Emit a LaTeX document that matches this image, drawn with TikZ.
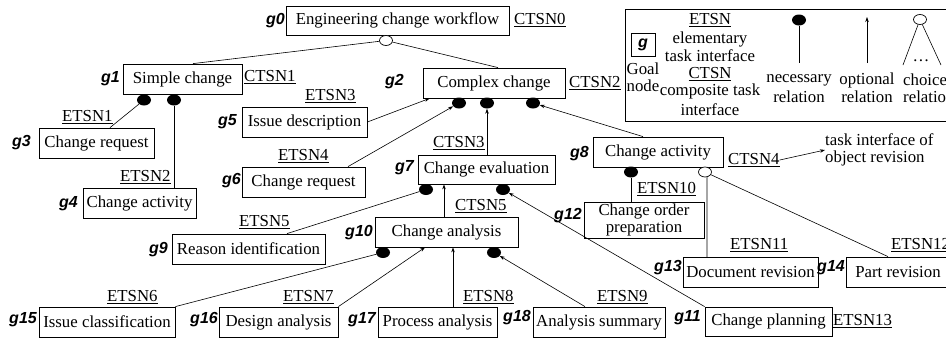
\documentclass[tikz,border=0pt]{standalone}
\usepackage{fontspec}
\setmainfont{Liberation Serif}
\newfontfamily\lblfont{Liberation Sans}
\usetikzlibrary{arrows.meta,shapes.geometric}
\begin{document}
\begin{tikzpicture}[x=1pt,y=-1pt,
  box/.style={draw, line width=0.8pt, inner sep=0pt, font=\fontsize{16.8}{17}\selectfont},
  gl/.style={font=\fontsize{16}{17}\selectfont\lblfont\bfseries\itshape, inner sep=0pt, anchor=east},
  tsn/.style={font=\fontsize{16.8}{17}\selectfont, inner sep=0pt, anchor=west},
  txt/.style={font=\fontsize{16.8}{17}\selectfont, inner sep=0pt},
  nec/.style={ellipse, fill=black, minimum width=14pt, minimum height=11pt, inner sep=0pt},
  cho/.style={ellipse, draw, line width=0.7pt, fill=white, minimum width=13pt, minimum height=10pt, inner sep=0pt},
  ln/.style={line width=0.6pt},
  arr/.style={line width=0.6pt, -{Stealth[length=5pt,width=3.5pt]}}
]
\useasboundingbox (0,0) rectangle (946,338);
\clip (0,0) rectangle (946,338);

% ---------- legend ----------
\draw[line width=0.9pt] (625,9) rectangle (970,121);
\node[draw, line width=0.8pt, minimum width=24pt, minimum height=23pt, inner sep=0pt,
      font=\fontsize{16}{17}\selectfont\lblfont\bfseries\itshape] (lg) at (643,44.5) {g};
\node[txt] (lgoal) at (643,69) {Goal};
\node[txt] (lnode) at (643,86) {node};
\node[txt] (le1) at (710,20) {\underline{ETSN}};
\node[txt] (le2) at (710,39) {elementary};
\node[txt] (le3) at (710,56) {task interface};
\node[txt] (le4) at (710,74) {\underline{CTSN}};
\node[txt] (le5) at (710,91) {composite task};
\node[txt] (le6) at (710,110) {interface};
\node[nec] (lnd) at (799,20) {};
\coordinate (lnb) at (799,63);
\draw[ln] (lnd) -- (lnb);
\node[txt] (lnt1) at (799,80) {necessary};
\node[txt] (lnt2) at (799,97) {relation};
\coordinate (lob) at (867,63);
\coordinate (lot) at (867,17);
\draw[arr] (lob) -- (lot);
\node[txt] (lot1) at (867,80) {optional};
\node[txt] (lot2) at (867,97) {relation};
\node[cho] (lcc) at (920,19.5) {};
\coordinate (lcl) at (903,65);
\coordinate (lcr) at (941,65);
\draw[ln] (lcc) -- (lcl);
\draw[ln] (lcc) -- (lcr);
\node[txt] (ldots) at (921,61) {\dots};
\node[txt, anchor=west] (lct1) at (903,80) {choice};
\node[txt, anchor=west] (lct2) at (903,97) {relation};

% ---------- boxes ----------
\node[box, minimum width=223pt, minimum height=29pt] (g0) at (397.5,20.5) {Engineering change workflow};
\node[box, minimum width=119pt, minimum height=30pt] (g1) at (182.5,79) {Simple change};
\node[box, minimum width=142pt, minimum height=30pt] (g2) at (494,83) {Complex change};
\node[box, minimum width=115pt, minimum height=30pt] (g3) at (96.5,143) {Change request};
\node[box, minimum width=113pt, minimum height=30pt] (g4) at (139.5,203) {Change activity};
\node[box, minimum width=125pt, minimum height=30pt] (g5) at (304.5,122) {Issue description};
\node[box, minimum width=123pt, minimum height=30pt] (g6) at (303.5,182) {Change request};
\node[box, minimum width=137pt, minimum height=29pt] (g7) at (486.5,169.5) {Change evaluation};
\node[box, minimum width=130pt, minimum height=30pt] (g8) at (658,152) {Change activity};
\node[box, minimum width=153pt, minimum height=30pt] (g9) at (248.5,249) {Reason identification};
\node[box, minimum width=143pt, minimum height=30pt] (g10) at (446.5,232) {Change analysis};
\node[box, minimum width=127pt, minimum height=29pt] (g11) at (768.5,321.5) {Change planning};
\node[box, minimum width=120pt, minimum height=36pt, align=center] (g12) at (644,220) {Change order\\preparation};
\node[box, minimum width=135pt, minimum height=30pt] (g13) at (750.5,272) {Document revision};
\node[box, minimum width=104pt, minimum height=30pt] (g14) at (898,272) {Part revision};
\node[box, minimum width=136pt, minimum height=30pt] (g15) at (107,322) {Issue classification};
\node[box, minimum width=119pt, minimum height=30pt] (g16) at (278.5,322) {Design analysis};
\node[box, minimum width=119pt, minimum height=30pt] (g17) at (437.5,322) {Process analysis};
\node[box, minimum width=132pt, minimum height=30pt] (g18) at (599,322) {Analysis summary};

% ---------- goal labels ----------
\node[gl] (l0) at (285,21) {g0};
\node[gl] (l1) at (120,79) {g1};
\node[gl] (l2) at (404,82) {g2};
\node[gl] (l3) at (31,143) {g3};
\node[gl] (l4) at (78,204) {g4};
\node[gl] (l5) at (237,122) {g5};
\node[gl] (l6) at (241,181) {g6};
\node[gl] (l7) at (414,168) {g7};
\node[gl] (l8) at (589,154) {g8};
\node[gl] (l9) at (168,250) {g9};
\node[gl] (l10) at (373,233) {g10};
\node[gl] (l11) at (701,318) {g11};
\node[gl] (l12) at (582,216) {g12};
\node[gl] (l13) at (682,268) {g13};
\node[gl] (l14) at (845,268) {g14};
\node[gl] (l15) at (37,320) {g15};
\node[gl] (l16) at (218,320) {g16};
\node[gl] (l17) at (376,320) {g17};
\node[gl] (l18) at (531,318) {g18};

% ---------- task interface labels ----------
\node[tsn] (c0) at (514,20) {\underline{CTSN0}};
\node[tsn] (c1) at (244,77) {\underline{CTSN1}};
\node[tsn] (c2) at (569,83) {\underline{CTSN2}};
\node[tsn] (c3) at (433,143) {\underline{CTSN3}};
\node[tsn] (c4) at (728,160) {\underline{CTSN4}};
\node[tsn] (c5) at (455,206) {\underline{CTSN5}};
\node[tsn] (e1) at (62,117) {\underline{ETSN1}};
\node[tsn] (e2) at (120,177) {\underline{ETSN2}};
\node[tsn] (e3) at (305,96) {\underline{ETSN3}};
\node[tsn] (e4) at (278,156) {\underline{ETSN4}};
\node[tsn] (e5) at (239,222) {\underline{ETSN5}};
\node[tsn] (e6) at (107,297) {\underline{ETSN6}};
\node[tsn] (e7) at (283,297) {\underline{ETSN7}};
\node[tsn] (e8) at (463,297) {\underline{ETSN8}};
\node[tsn] (e9) at (597,297) {\underline{ETSN9}};
\node[tsn] (e10) at (637,189) {\underline{ETSN10}};
\node[tsn] (e11) at (730,245) {\underline{ETSN11}};
\node[tsn] (e12) at (891,245) {\underline{ETSN12}};
\node[tsn] (e13) at (833,321) {\underline{ETSN13}};
\node[txt, anchor=west, align=left] (task) at (825,150) {task interface of\\object revision};

% ---------- relation markers ----------
\node[cho] (k0) at (386,40.5) {};
\node[nec] (d1a) at (144,100) {};
\node[nec] (d1b) at (174,100) {};
\node[nec] (d2a) at (459,103) {};
\node[nec] (d2b) at (487,103) {};
\node[nec] (d2c) at (533,103) {};
\node[nec] (d7a) at (426,189.5) {};
\node[nec] (d7b) at (503,189.5) {};
\node[nec] (d8) at (631,172) {};
\node[cho] (k8) at (705,172) {};
\node[nec] (d10a) at (383,252.5) {};
\node[nec] (d10b) at (494,252.5) {};

% ---------- connectors ----------
\draw[ln] (k0) -- ([xshift=10.5pt]g1.north);
\draw[ln] (k0) -- ([xshift=4pt]g2.north);
\draw[ln] (d1a) -- ([xshift=13.5pt]g3.north);
\draw[ln] (d1b) -- (d1b |- g4.north);
\draw[arr] (g5.east) -- ([xshift=7pt]g2.south west);
\draw[arr] ([xshift=44.5pt]g6.north) -- (d2a);
\draw[arr] (d2b |- g7.north) -- (d2b);
\draw[arr] ([xshift=-15pt]g8.north) -- (d2c);
\draw[ln] ([xshift=38.5pt]g9.north) -- (d7a);
\draw[arr] ([xshift=-2.5pt]g10.north) -- ([xshift=-2.5pt]g10.north |- g7.south);
\draw[arr] (g11.north west) -- (d7b);
\draw[ln] (d8) -- (d8 |- g12.north);
\draw[gray!70, line width=1.4pt] ([xshift=2pt]k8.south) -- ([xshift=2pt]k8.south |- g13.north);
\draw[ln] (k8) -- ([xshift=-10pt]g14.north);
\draw[arr] (c4.east) -- (task.west);
\draw[ln] (g15.north east) -- (d10a);
\draw[arr] (g16.north east) -- ([xshift=-21.5pt]g10.south);
\draw[arr] ([xshift=15.5pt]g17.north) -- ([xshift=15.5pt]g17.north |- g10.south);
\draw[arr] ([xshift=-14pt]g18.north) -- (d10b);
\end{tikzpicture}
\end{document}
